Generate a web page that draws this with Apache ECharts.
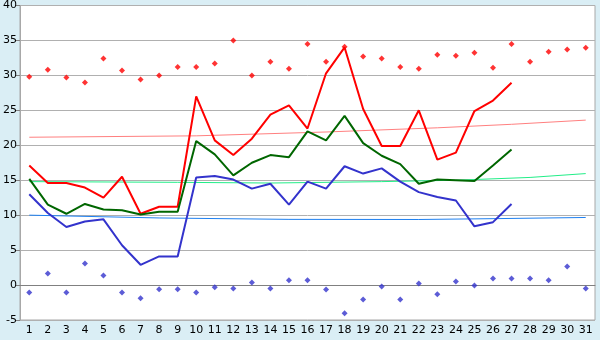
<!DOCTYPE html>
<html>
<head>
<meta charset="utf-8">
<script src="https://cdn.jsdelivr.net/npm/echarts@6/dist/echarts.min.js"></script>
<style>
  html, body { margin: 0; padding: 0; background: #daeef5; }
  #chart { width: 600px; height: 340px; }
</style>
</head>
<body>
<div id="chart"></div>
<script>
// days of the month
var days = [];
for (var d = 1; d <= 31; d++) days.push(String(d));

// daily max / mean / min (days 1-27)
var maxTemp = [17.1, 14.6, 14.6, 13.95, 12.5, 15.5, 10.2, 11.2, 11.2, 27.0,
  20.7, 18.6, 20.95, 24.4, 25.7, 22.4, 30.3, 34.0, 25.2, 19.9,
  19.9, 25.0, 17.95, 18.95, 24.9, 26.4, 28.95];
var meanTemp = [15.2, 11.5, 10.2, 11.6, 10.8, 10.7, 10.1, 10.5, 10.5, 20.6,
  18.7, 15.7, 17.5, 18.6, 18.3, 22.0, 20.7, 24.2, 20.3, 18.5,
  17.3, 14.5, 15.1, 15.0, 14.9, 17.1, 19.4];
var minTemp = [13.0, 10.3, 8.3, 9.1, 9.4, 5.7, 2.9, 4.1, 4.1, 15.4,
  15.6, 15.1, 13.8, 14.5, 11.5, 14.8, 13.8, 17.0, 15.95, 16.7,
  14.8, 13.3, 12.6, 12.1, 8.4, 9.0, 11.6];

// record highs / lows for each day
var recordHigh = [29.8, 30.8, 29.7, 29.0, 32.4, 30.7, 29.4, 30.0, 31.2, 31.2,
  31.7, 35.0, 30.0, 31.95, 30.95, 34.5, 31.95, 34.1, 32.7, 32.4,
  31.2, 30.95, 32.95, 32.8, 33.25, 31.1, 34.5, 31.95, 33.4, 33.7, 33.95];
var recordLow = [-1.05, 1.67, -1.05, 3.1, 1.38, -1.05, -1.9, -0.6, -0.6, -1.05,
  -0.33, -0.48, 0.38, -0.48, 0.67, 0.67, -0.62, -4.05, -2.05, -0.19,
  -2.05, 0.24, -1.33, 0.52, -0.05, 0.95, 0.95, 0.95, 0.67, 2.67, -0.48];

// trend lines, read at a few days (others null)
var maxTrend = [21.15, null, null, null, null, null, null, null, null, 21.35,
  null, null, null, null, null, null, 21.9, null, null, null,
  null, null, 22.5, null, null, null, 23.0, null, null, null, 23.6];
var meanTrend = [14.8, null, null, null, null, null, null, null, 14.7, null,
  null, null, null, 14.6, null, null, null, null, null, 14.8,
  null, null, null, 15.0, null, null, null, 15.4, null, null, 15.95];
var minTrend = [10.0, null, null, null, null, null, null, 9.6, null, null,
  null, null, null, null, 9.4, null, null, null, null, null,
  null, 9.38, null, null, null, 9.5, null, null, null, null, 9.67];

var chart = echarts.init(document.getElementById('chart'));

function lineSeries(data, color, width) {
  return {
    type: 'line',
    data: data,
    connectNulls: true,
    showSymbol: false,
    symbol: 'none',
    animation: false,
    lineStyle: { color: color, width: width }
  };
}

function dotSeries(data, color) {
  return {
    type: 'scatter',
    data: data,
    symbol: 'diamond',
    symbolSize: 6,
    animation: false,
    itemStyle: { color: color }
  };
}

var option = {
  backgroundColor: '#daeef5',
  textStyle: { fontFamily: 'DejaVu Sans' },
  grid: {
    left: 20, right: 5, top: 5, bottom: 20,
    show: true,
    backgroundColor: '#ffffff',
    borderColor: '#a8a8a8',
    borderWidth: 1
  },
  xAxis: {
    type: 'category',
    data: days,
    boundaryGap: true,
    axisLine: { lineStyle: { color: '#808080', width: 1 } },
    axisTick: { alignWithLabel: true, length: 5, lineStyle: { color: '#000000' } },
    axisLabel: { color: '#000000', fontSize: 11, margin: 5, interval: 0 },
    splitLine: { show: false }
  },
  yAxis: {
    type: 'value',
    min: -5,
    max: 40,
    interval: 5,
    axisLine: { show: true, lineStyle: { color: '#a8a8a8' } },
    axisTick: { show: true, length: 4, lineStyle: { color: '#808080' } },
    axisLabel: { color: '#000000', fontSize: 11, margin: 3 },
    splitLine: { lineStyle: { color: '#b0b0b0', width: 1 } }
  },
  series: [
    lineSeries(maxTrend, '#ff8080', 1),
    lineSeries(meanTrend, '#22ee88', 1),
    lineSeries(minTrend, '#1e80f0', 1),
    lineSeries(maxTemp, '#ff0000', 2),
    lineSeries(meanTemp, '#006600', 2),
    lineSeries(minTemp, '#3333cc', 2),
    dotSeries(recordHigh, '#ff0000'),
    dotSeries(recordLow, '#3333cc')
  ]
};

chart.setOption(option);
</script>
</body>
</html>
